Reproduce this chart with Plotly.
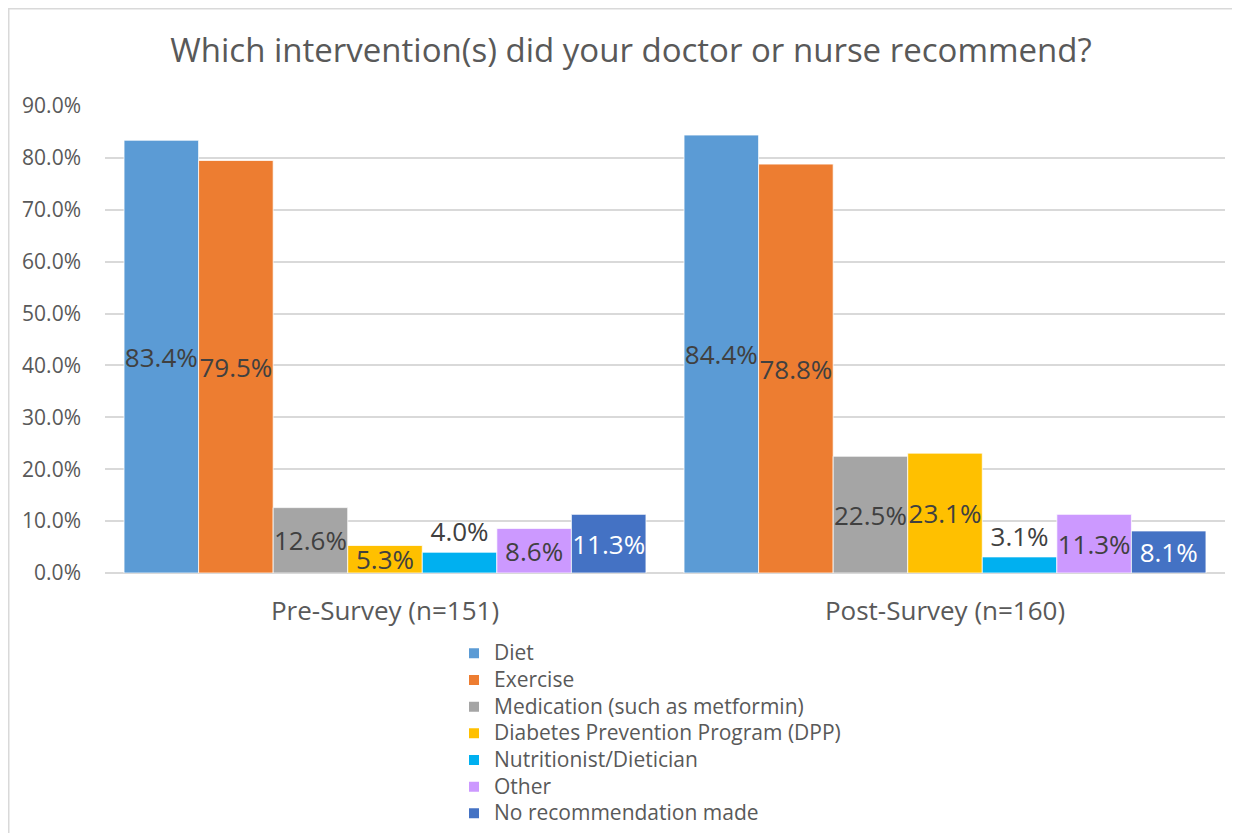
import plotly.graph_objects as go

# --- Data ---------------------------------------------------------------
categories = ["Pre-Survey (n=151)", "Post-Survey (n=160)"]

series_names = [
    "Diet",
    "Exercise",
    "Medication (such as metformin)",
    "Diabetes Prevention Program (DPP)",
    "Nutritionist/Dietician",
    "Other",
    "No recommendation made",
]

diet = [0.834, 0.844]
exercise = [0.795, 0.788]
medication = [0.126, 0.225]
dpp = [0.053, 0.231]
nutritionist = [0.040, 0.031]
other = [0.086, 0.113]
no_recommendation = [0.113, 0.081]

tick_values = [0.0, 0.1, 0.2, 0.3, 0.4, 0.5, 0.6, 0.7, 0.8, 0.9]
tick_labels = ["0.0%", "10.0%", "20.0%", "30.0%", "40.0%", "50.0%",
               "60.0%", "70.0%", "80.0%", "90.0%"]

# --- Styling ------------------------------------------------------------
FONT = "Open Sans"
INK = "#595959"
LABEL_INK = "#404040"
GRID = "#d9d9d9"

series_values = [diet, exercise, medication, dpp, nutritionist, other, no_recommendation]
series_colors = ["#5B9BD5", "#ED7D31", "#A5A5A5", "#FFC000", "#00B0F0", "#CC99FF", "#4472C4"]
label_colors = [LABEL_INK, LABEL_INK, LABEL_INK, LABEL_INK, LABEL_INK, LABEL_INK, "white"]

# the page body adds an 8px margin, so the figure is 8px smaller than the window
W, H = 1232, 825
# plot area in figure pixels (left, right, top, bottom) -- margins are zero, domains place it
PX_L, PX_R, PX_T, PX_B = 97, 1217, 98, 565

fig = go.Figure()
for name, vals, color, lab_col in zip(series_names, series_values, series_colors, label_colors):
    # tiny bars get their label above the bar, the rest centred in the bar
    outside = name == "Nutritionist/Dietician"
    fig.add_trace(
        go.Bar(
            x=categories, y=vals,
            # legend rows are spaced by legend.font.size; the span makes the text itself larger
            name=f'<span style="font-size:21px">{name}</span>',
            marker=dict(color=color, line=dict(width=0.75, color="white")),
            text=[f"{v * 100:.1f}%" for v in vals],
            textposition="outside" if outside else "inside",
            insidetextanchor="middle",
            textangle=0,
            constraintext="none",
            cliponaxis=False,
            textfont=dict(family=FONT, size=26, color=lab_col),
            hovertemplate="%{x}<br>" + name + ": %{y:.1%}<extra></extra>",
        )
    )

# thin outer chart border
fig.add_shape(
    type="rect", xref="paper", yref="paper",
    x0=0.75 / W, x1=1229 / W, y0=-0.02, y1=1 - 0.75 / H,
    line=dict(color=GRID, width=1.5), fillcolor="rgba(0,0,0,0)", layer="below",
)

fig.update_layout(
    width=W, height=H,
    margin=dict(l=0, r=0, t=0, b=0, autoexpand=False),
    paper_bgcolor="white", plot_bgcolor="white",
    barmode="group", bargap=0.068, bargroupgap=0,
    title=dict(
        text="Which intervention(s) did your doctor or nurse recommend?",
        x=623 / W, xanchor="center", y=1 - 42 / H, yanchor="middle",
        font=dict(family=FONT, size=33, color=INK),
    ),
    font=dict(family=FONT, color=INK),
    showlegend=True,
    legend=dict(
        orientation="v", x=446 / W, xanchor="left",
        y=1 / H, yanchor="bottom",
        font=dict(family=FONT, size=18.2, color=INK),
        traceorder="normal", itemsizing="constant",
        bgcolor="rgba(0,0,0,0)", tracegroupgap=0,
    ),
)
fig.update_xaxes(
    domain=[PX_L / W, PX_R / W], automargin=False,
    showgrid=False, showline=False, ticks="", ticklabelstandoff=20,
    tickfont=dict(family=FONT, size=26, color=INK),
)
fig.update_yaxes(
    domain=[1 - PX_B / H, 1 - PX_T / H], automargin=False,
    range=[0, 0.9], tickvals=tick_values, ticktext=tick_labels,
    showgrid=True, gridcolor=GRID, gridwidth=1.5,
    zeroline=True, zerolinecolor=GRID, zerolinewidth=1.5,
    showline=False, ticks="", ticklabelstandoff=23,
    tickfont=dict(family=FONT, size=21, color=INK),
)

fig.write_html("out.html")
